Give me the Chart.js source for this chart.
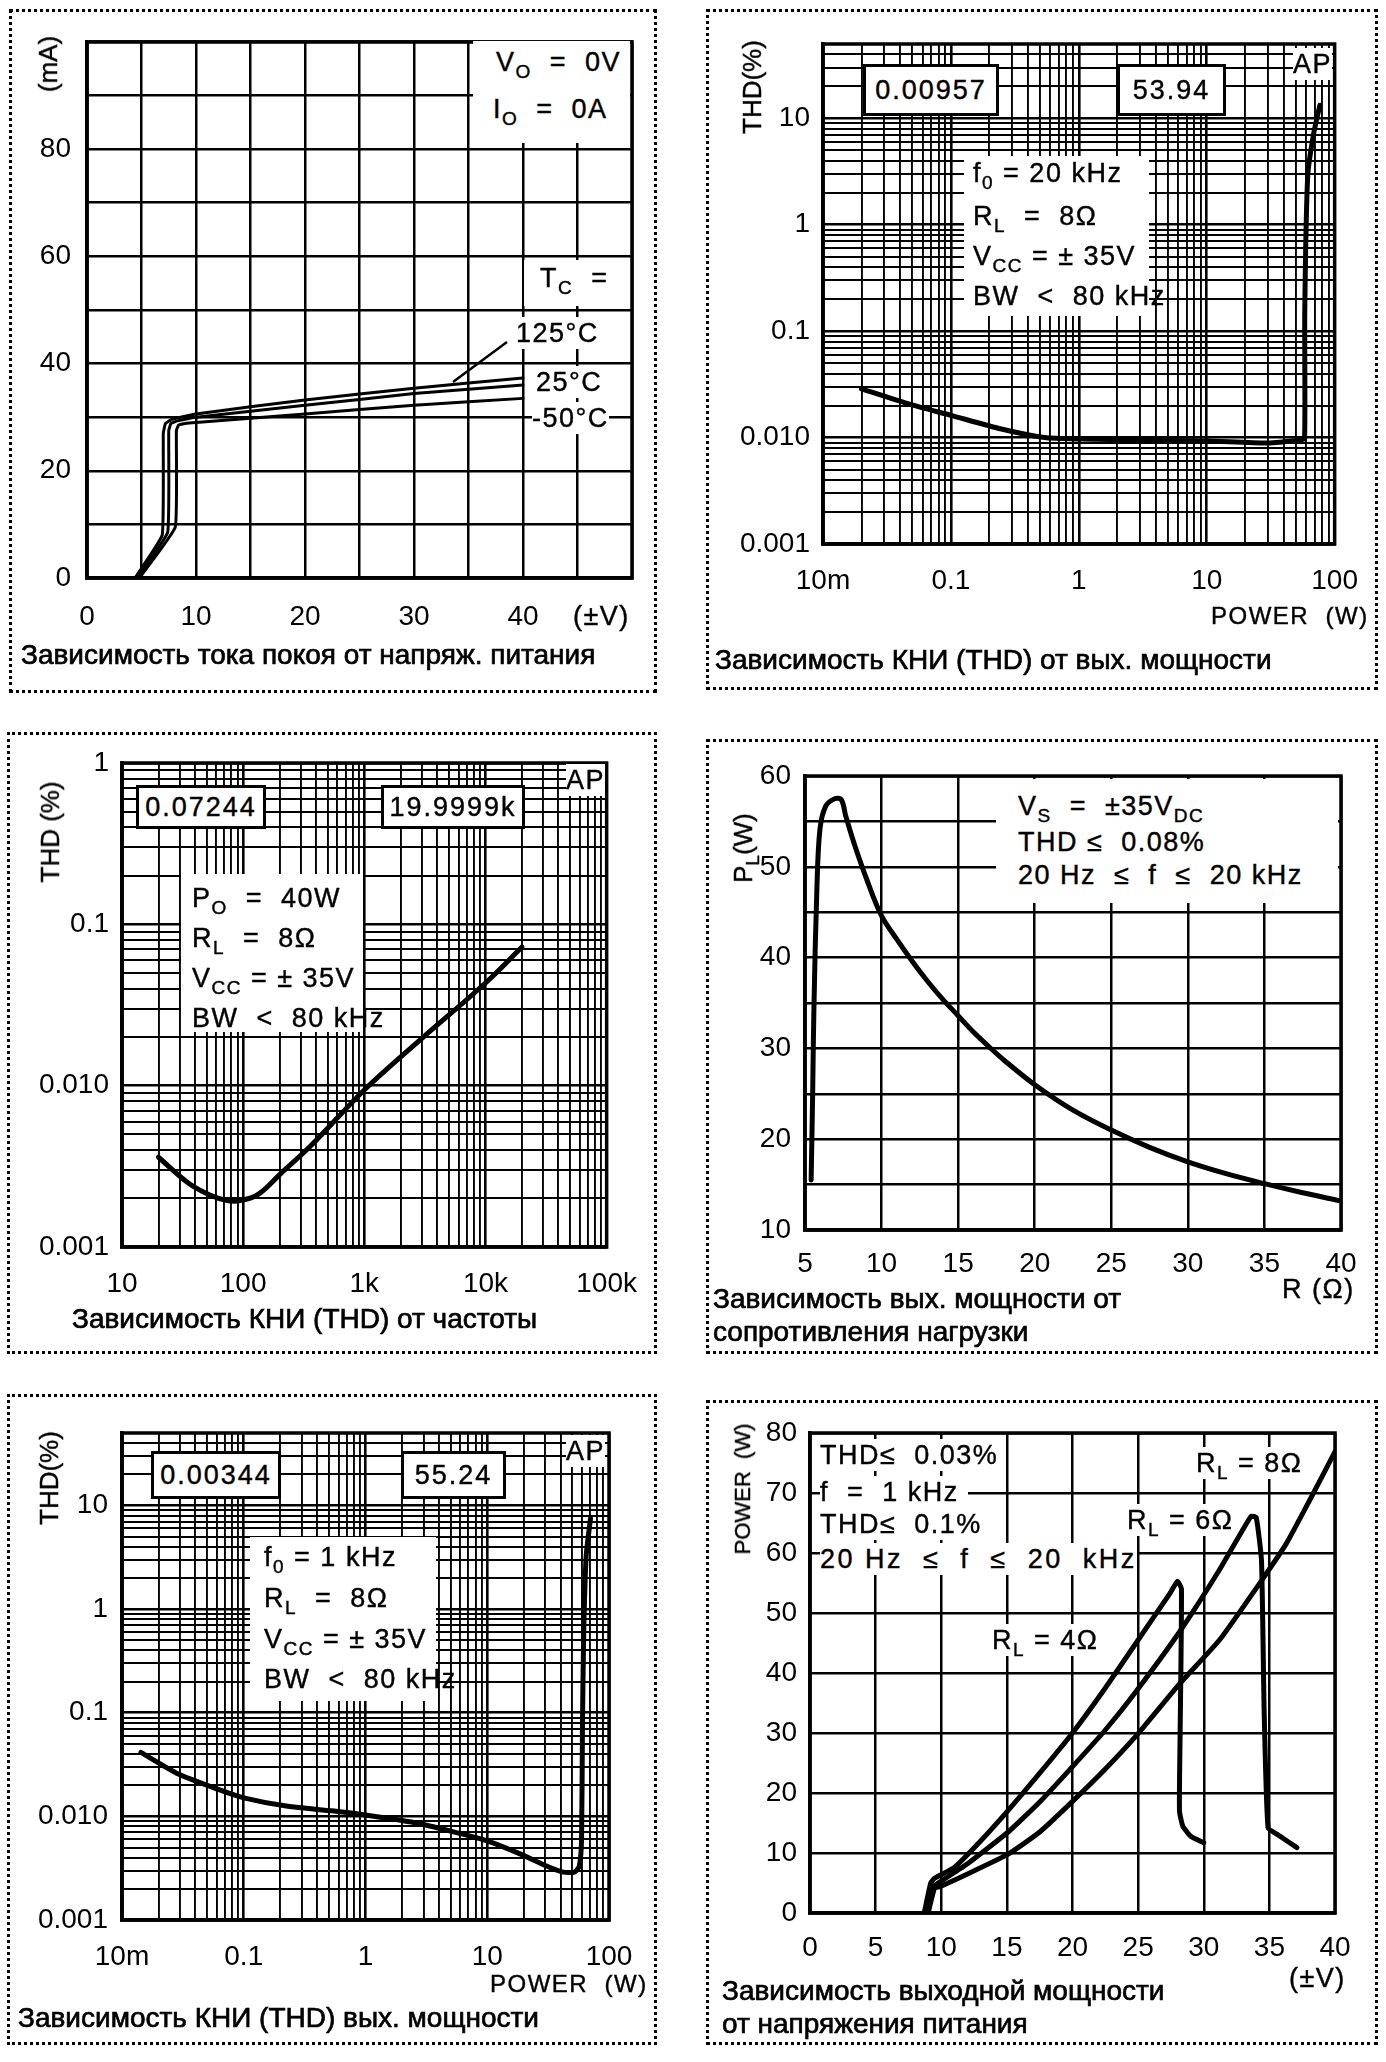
<!DOCTYPE html>
<html>
<head>
<meta charset="utf-8">
<script src="https://cdn.jsdelivr.net/npm/chart.js@4.4.1/dist/chart.umd.min.js"></script>
<style>
body { margin: 0; width: 1386px; height: 2062px; background: #fff; position: relative; font-family: 'Liberation Sans', Arial, sans-serif; color: #000; overflow: hidden; }
.panel { position: absolute; border: 3px dotted #000; box-sizing: border-box; }
canvas { position: absolute; }
.t { position: absolute; font-size: 27px; line-height: 32px; white-space: pre; letter-spacing: 1.5px; -webkit-text-stroke: 0.4px #000; }
.bg { background: #fff; }
.blk { position: absolute; background: #fff; }
.box { position: absolute; background: #fff; border: 3px solid #000; box-sizing: border-box; display: flex; align-items: center; justify-content: center; font-size: 27px; letter-spacing: 2px; -webkit-text-stroke: 0.4px #000; }
.rot { position: absolute; transform: translate(-50%, -50%) rotate(-90deg); white-space: pre; font-size: 26px; line-height: 30px; -webkit-text-stroke: 0.4px #000; }
.cap { position: absolute; font-size: 28px; line-height: 34px; white-space: nowrap; -webkit-text-stroke: 0.7px #000; }
sub { font-size: 19px; vertical-align: -7px; line-height: 0; }
</style>
</head>
<body>
<div class="panel" style="left:9px;top:9px;width:648px;height:684px"></div>
<div class="panel" style="left:706px;top:9px;width:672px;height:681px"></div>
<div class="panel" style="left:7px;top:732px;width:650px;height:622px"></div>
<div class="panel" style="left:706px;top:739px;width:672px;height:615px"></div>
<div class="panel" style="left:7px;top:1394px;width:650px;height:651px"></div>
<div class="panel" style="left:706px;top:1400px;width:672px;height:645px"></div>

<canvas id="c1"></canvas>
<canvas id="c2"></canvas>
<canvas id="c3"></canvas>
<canvas id="c4"></canvas>
<canvas id="c5"></canvas>
<canvas id="c6"></canvas>

<!-- panel 1 -->
<div class="rot" style="left:48px;top:64px">(mA)</div>
<div class="blk" style="left:473px;top:41px;width:157px;height:102px"></div>
<div class="t" style="left:496px;top:46px">V<sub>O</sub>  =  0V</div>
<div class="t" style="left:493px;top:93px">I<sub>O</sub>  =  0A</div>
<div class="blk" style="left:524px;top:260px;width:106px;height:46px"></div>
<div class="t" style="left:540px;top:262px">T<sub>C</sub>  =</div>
<div class="t bg" style="left:516px;top:317px">125°C</div>
<div class="t bg" style="left:536px;top:366px">25°C</div>
<div class="t bg" style="left:532px;top:402px">-50°C</div>
<div class="t" style="left:573px;top:600px">(±V)</div>
<div class="cap" style="left:21px;top:638px">Зависимость тока покоя от напряж. питания</div>

<!-- panel 2 -->
<div class="rot" style="left:752px;top:87px">THD(%)</div>
<div class="box" style="left:863px;top:64px;width:136px;height:52px">0.00957</div>
<div class="box" style="left:1117px;top:64px;width:109px;height:52px">53.94</div>
<div class="t bg" style="left:1293px;top:48px">AP</div>
<div class="blk" style="left:964px;top:156px;width:185px;height:160px"></div>
<div class="t" style="left:973px;top:157px">f<sub>0</sub> = 20 kHz</div>
<div class="t" style="left:973px;top:200px">R<sub>L</sub>  =  8Ω</div>
<div class="t" style="left:973px;top:240px">V<sub>CC</sub> = ± 35V</div>
<div class="t" style="left:973px;top:280px">BW  &lt;  80 kHz</div>
<div class="t" style="left:1211px;top:600px;font-size:24px">POWER  (W)</div>
<div class="cap" style="left:715px;top:643px">Зависимость КНИ (THD) от вых. мощности</div>

<!-- panel 3 -->
<div class="rot" style="left:50px;top:832px">THD (%)</div>
<div class="box" style="left:136px;top:785px;width:130px;height:44px">0.07244</div>
<div class="box" style="left:381px;top:785px;width:144px;height:44px">19.9999k</div>
<div class="t bg" style="left:566px;top:764px">AP</div>
<div class="blk" style="left:181px;top:874px;width:182px;height:158px"></div>
<div class="t" style="left:192px;top:882px">P<sub>O</sub>  =  40W</div>
<div class="t" style="left:192px;top:922px">R<sub>L</sub>  =  8Ω</div>
<div class="t" style="left:192px;top:962px">V<sub>CC</sub> = ± 35V</div>
<div class="t" style="left:192px;top:1002px">BW  &lt;  80 kHz</div>
<div class="cap" style="left:72px;top:1302px">Зависимость КНИ (THD) от частоты</div>

<!-- panel 4 -->
<div class="rot" style="left:743px;top:848px">P<sub>L</sub>(W)</div>
<div class="blk" style="left:996px;top:779px;width:342px;height:124px"></div>
<div class="t" style="left:1018px;top:790px">V<sub>S</sub>  =  ±35V<sub>DC</sub></div>
<div class="t" style="left:1018px;top:826px">THD ≤  0.08%</div>
<div class="t" style="left:1018px;top:859px">20 Hz  ≤  f  ≤  20 kHz</div>
<div class="t" style="left:1282px;top:1273px">R (Ω)</div>
<div class="cap" style="left:713px;top:1282px">Зависимость вых. мощности от</div>
<div class="cap" style="left:713px;top:1315px">сопротивления нагрузки</div>

<!-- panel 5 -->
<div class="rot" style="left:49px;top:1478px">THD(%)</div>
<div class="box" style="left:151px;top:1451px;width:130px;height:48px">0.00344</div>
<div class="box" style="left:401px;top:1451px;width:105px;height:48px">55.24</div>
<div class="t bg" style="left:566px;top:1435px">AP</div>
<div class="blk" style="left:250px;top:1537px;width:186px;height:164px"></div>
<div class="t" style="left:264px;top:1541px">f<sub>0</sub> = 1 kHz</div>
<div class="t" style="left:264px;top:1582px">R<sub>L</sub>  =  8Ω</div>
<div class="t" style="left:264px;top:1623px">V<sub>CC</sub> = ± 35V</div>
<div class="t" style="left:264px;top:1663px">BW  &lt;  80 kHz</div>
<div class="t" style="left:490px;top:1968px;font-size:24px">POWER  (W)</div>
<div class="cap" style="left:18px;top:2001px">Зависимость КНИ (THD) вых. мощности</div>

<!-- panel 6 -->
<div class="rot" style="left:743px;top:1489px;font-size:22px">POWER  (W)</div>
<div class="t bg" style="left:820px;top:1439px">THD≤  0.03%</div>
<div class="t bg" style="left:820px;top:1476px">f  =  1 kHz </div>
<div class="t bg" style="left:820px;top:1508px">THD≤  0.1%</div>
<div class="t bg" style="left:820px;top:1543px;letter-spacing:2.5px">20 Hz  ≤  f  ≤  20  kHz</div>
<div class="t bg" style="left:1196px;top:1447px">R<sub>L</sub> = 8Ω</div>
<div class="t bg" style="left:1127px;top:1504px">R<sub>L</sub> = 6Ω</div>
<div class="t bg" style="left:992px;top:1624px">R<sub>L</sub> = 4Ω</div>
<div class="t" style="left:1289px;top:1962px">(±V)</div>
<div class="cap" style="left:722px;top:1974px">Зависимость выходной мощности</div>
<div class="cap" style="left:722px;top:2007px">от напряжения питания</div>

<svg style="position:absolute;left:0;top:0" width="1386" height="2062">
  <line x1="507" y1="342" x2="453" y2="382" stroke="#000" stroke-width="2.5"/>
</svg>

<script>
// --- panel 1: quiescent current vs supply voltage
const vcc125 = [4.4, 6.9, 7.0, 7.2, 7.8, 10, 20, 30, 40];
const iq125 = [0, 8, 27, 28.8, 29.6, 30.6, 33.2, 35.4, 37.3];
const vcc25 = [4.6, 7.4, 7.5, 7.7, 8.3, 10, 20, 30, 40];
const iq25 = [0, 8.5, 27.5, 28.8, 29.3, 30.0, 32.2, 34.4, 36.0];
const vccM50 = [4.8, 8.1, 8.2, 8.4, 9.0, 10, 20, 30, 40];
const iqM50 = [0, 9.5, 27.5, 28.5, 28.8, 29.0, 30.6, 32.2, 33.5];
const vTickLabels = [0, 10, 20, 30, 40];
const iqTickLabels = [0, 20, 40, 60, 80];

// --- panel 2: THD vs output power, 20 kHz
const pout20k = [0.02, 0.048, 0.1, 0.243, 0.54, 1, 10, 30, 54, 58.2, 58.4, 61.6, 68.4, 76.6];
const thd20k = [0.0287, 0.0205, 0.0162, 0.0121, 0.0100, 0.0097, 0.0093, 0.0089, 0.0095, 0.0098, 0.15, 2.9, 7.1, 13.3];

// --- panel 3: THD vs frequency
const freqHz = [20, 35, 53, 74, 95, 133, 203, 365, 1000, 3000, 10000, 20000];
const thdFreq = [0.0036, 0.0025, 0.0021, 0.00194, 0.00194, 0.00212, 0.00284, 0.00427, 0.0094, 0.0197, 0.0433, 0.0724];

// --- panel 4: output power vs load
const loadOhm = [5.4, 5.5, 5.58, 5.78, 5.98, 6.36, 6.94, 7.37, 7.66, 8.24, 9.1, 10, 11, 12, 13, 14, 15, 16, 17, 18, 20, 22.5, 25, 27.5, 30, 32.5, 35, 37.5, 40];
const powerLoad = [15.5, 25, 34.2, 47.8, 54.2, 56.7, 57.5, 57.4, 55.6, 52.4, 48.3, 44.6, 42.0, 39.6, 37.4, 35.4, 33.6, 31.8, 30.2, 28.7, 26.0, 23.2, 21.0, 19.1, 17.5, 16.2, 15.1, 14.1, 13.2];
const loadTickLabels = [5, 10, 15, 20, 25, 30, 35, 40];
const powerLoadTickLabels = [10, 20, 30, 40, 50, 60];

// --- panel 5: THD vs output power, 1 kHz
const pout1k = [0.0143, 0.029, 0.061, 0.1, 0.23, 0.53, 1, 2.8, 6.4, 10, 19, 31, 42, 52, 57, 59.5, 60.5, 62, 65, 70.5];
const thd1k = [0.0414, 0.0256, 0.0183, 0.0151, 0.0125, 0.0113, 0.0103, 0.0085, 0.0067, 0.0058, 0.0043, 0.0033, 0.0029, 0.0029, 0.0033, 0.006, 0.07, 0.6, 3.3, 7.5];

// --- panel 6: output power vs supply voltage
const volt4 = [8.7, 9.2, 9.5, 11, 13, 15.1, 17.5, 20, 22.5, 25, 27.4, 28.0, 28.3, 28.2, 28.15, 28.4, 29.0, 30.0];
const pwr4 = [0, 5, 5.8, 7.6, 12, 17.1, 23.3, 30, 37.5, 45.5, 53.2, 55.3, 54.0, 30, 17, 14.5, 12.8, 11.7];
const volt6 = [8.9, 9.4, 9.7, 12, 15.1, 17.5, 20, 22.5, 24.8, 28.2, 31.2, 33.6, 34.0, 34.4, 34.6, 34.9, 35.6, 37.1];
const pwr6 = [0, 4.5, 4.9, 8.2, 13.5, 18.5, 24.4, 30.5, 36.8, 47, 57.2, 66.1, 65.9, 58.7, 33.9, 14.2, 13.1, 10.9];
const volt8 = [9.0, 9.5, 9.9, 12, 15.1, 17.5, 20, 22.5, 25, 28.2, 31.2, 34.4, 36.3, 38, 40];
const pwr8 = [0, 4.2, 4.4, 6.5, 9.8, 13.5, 18.6, 24, 29.9, 38.3, 45.5, 55.4, 61.6, 68.5, 76.9];
const voltTickLabels = [0, 5, 10, 15, 20, 25, 30, 35, 40];
const powerTickLabels = [0, 10, 20, 30, 40, 50, 60, 70, 80];

// log axis labels
const powerDecades = [0.01, 0.1, 1, 10, 100];
const powerDecadeNames = ['10m', '0.1', '1', '10', '100'];
const thdDecades = [0.001, 0.01, 0.1, 1, 10];
const thdDecadeNames = ['0.001', '0.010', '0.1', '1', '10'];
const freqDecades = [10, 100, 1000, 10000, 100000];
const freqDecadeNames = ['10', '100', '1k', '10k', '100k'];

const tickFont = { family: "'Liberation Sans', Arial, sans-serif", size: 28 };

function zip(xs, ys) {
    return xs.map((x, i) => ({ x: x, y: ys[i] }));
}

function logGrid(min, max) {
    const out = [];
    for (let e = Math.floor(Math.log10(min)); e <= Math.ceil(Math.log10(max)); e++) {
        for (let m = 1; m < 10; m++) {
            const v = Number((m * Math.pow(10, e)).toPrecision(6));
            if (v >= min * 0.999 && v <= max * 1.001) out.push(v);
        }
    }
    return out;
}

function linAxis(min, max, step, shown, pad) {
    return {
        type: 'linear', min: min, max: max,
        ticks: {
            stepSize: step, maxTicksLimit: 100, autoSkip: false, maxRotation: 0,
            padding: pad, color: '#000', font: tickFont,
            callback: v => shown.includes(v) ? String(v) : ''
        },
        grid: { color: '#000', lineWidth: 2.5, drawTicks: false },
        border: { color: '#000', width: 3.5 }
    };
}

function logAxis(min, max, majors, names, pad) {
    const lines = logGrid(min, max);
    return {
        type: 'logarithmic', min: min, max: max,
        afterBuildTicks: s => { s.ticks = lines.map(v => ({ value: v })); },
        ticks: {
            autoSkip: false, maxRotation: 0, padding: pad, color: '#000', font: tickFont,
            callback: v => {
                const i = majors.indexOf(v);
                return i < 0 ? '' : names[i];
            }
        },
        grid: {
            color: '#000', drawTicks: false,
            lineWidth: c => (c.tick && majors.includes(c.tick.value)) ? 2.6 : 1.9
        },
        border: { color: '#000', width: 3.5 }
    };
}

function curve(xs, ys, width, tension) {
    return {
        data: zip(xs, ys), showLine: true, borderColor: '#000', borderWidth: width,
        pointRadius: 0, tension: tension, fill: false, borderCapStyle: 'round', borderJoinStyle: 'round'
    };
}

// thick frame round the plot area, like the scanned sheet
const framePlugin = {
    id: 'frame',
    afterDraw(chart) {
        const a = chart.chartArea;
        const c = chart.ctx;
        c.save();
        c.lineWidth = 3.5;
        c.strokeStyle = '#000';
        c.strokeRect(a.left, a.top, a.right - a.left, a.bottom - a.top);
        c.restore();
    }
};

function makePanel(id, rect, plot, xAxis, yAxis, datasets) {
    const cv = document.getElementById(id);
    cv.width = rect.w;
    cv.height = rect.h;
    cv.style.left = rect.l + 'px';
    cv.style.top = rect.t + 'px';
    xAxis.afterFit = s => { s.height = rect.t + rect.h - plot.b; };
    yAxis.afterFit = s => { s.width = plot.l - rect.l; };
    new Chart(cv, {
        type: 'scatter',
        data: { datasets: datasets },
        options: {
            responsive: false, animation: false, events: [],
            layout: { padding: { top: plot.t - rect.t, right: rect.l + rect.w - plot.r, left: 0, bottom: 0 } },
            plugins: { legend: { display: false }, tooltip: { enabled: false } },
            scales: { x: xAxis, y: yAxis }
        },
        plugins: [framePlugin]
    });
}

makePanel('c1', { l: 9, t: 9, w: 648, h: 684 }, { l: 87, t: 39, r: 632, b: 578 },
    linAxis(0, 50, 5, vTickLabels, 22), linAxis(0, 100, 10, iqTickLabels, 16),
    [curve(vcc125, iq125, 3, 0.1), curve(vcc25, iq25, 3, 0.1), curve(vccM50, iqM50, 3, 0.1)]);

makePanel('c2', { l: 706, t: 9, w: 672, h: 681 }, { l: 823, t: 44, r: 1337, b: 544 },
    logAxis(0.01, 100, powerDecades, powerDecadeNames, 20), logAxis(0.001, 50, thdDecades, thdDecadeNames, 13),
    [curve(pout20k, thd20k, 5, 0.2)]);

makePanel('c3', { l: 7, t: 732, w: 650, h: 622 }, { l: 122, t: 763, r: 609, b: 1247 },
    logAxis(10, 100000, freqDecades, freqDecadeNames, 20), logAxis(0.001, 1, thdDecades, thdDecadeNames, 13),
    [curve(freqHz, thdFreq, 5, 0.35)]);

makePanel('c4', { l: 706, t: 739, w: 672, h: 615 }, { l: 805, t: 776, r: 1341, b: 1230 },
    linAxis(5, 40, 5, loadTickLabels, 17), linAxis(10, 60, 5, powerLoadTickLabels, 14),
    [curve(loadOhm, powerLoad, 5, 0.35)]);

makePanel('c5', { l: 7, t: 1394, w: 650, h: 651 }, { l: 122, t: 1433, r: 609, b: 1920 },
    logAxis(0.01, 100, powerDecades, powerDecadeNames, 20), logAxis(0.001, 50, thdDecades, thdDecadeNames, 14),
    [curve(pout1k, thd1k, 5, 0.2)]);

makePanel('c6', { l: 706, t: 1400, w: 672, h: 645 }, { l: 810, t: 1433, r: 1335, b: 1913 },
    linAxis(0, 40, 5, voltTickLabels, 18), linAxis(0, 80, 10, powerTickLabels, 13),
    [curve(volt4, pwr4, 5, 0.15), curve(volt6, pwr6, 5, 0.15), curve(volt8, pwr8, 5, 0.15)]);
</script>
</body>
</html>
